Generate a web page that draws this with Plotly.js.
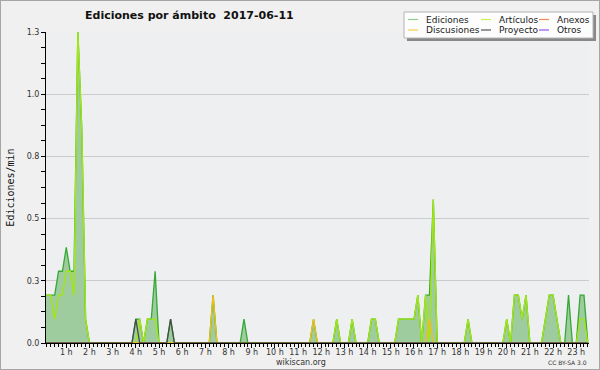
<!DOCTYPE html>
<html>
<head>
<meta charset="utf-8">
<script src="https://cdn.plot.ly/plotly-3.0.1.min.js"></script>
<style>
  html, body { margin: 0; padding: 0; background: #f0f0f0; }
  #wrap { position: relative; width: 600px; height: 370px; }
  #chart { width: 600px; height: 370px; }
  #frame { position: absolute; left: 0; top: 0; width: 600px; height: 370px; box-sizing: border-box; border: 1px solid #a6a6a6; pointer-events: none; }
</style>
</head>
<body>
<div id="wrap"><div id="chart"></div><div id="frame"></div></div>
<script>
// Time of each 10-minute bin (minutes after midnight)
const minutes = [
  0,10,20,30,40,50,60,70,80,90,100,110,
  120,130,140,150,160,170,180,190,200,210,220,230,
  240,250,260,270,280,290,300,310,320,330,340,350,
  360,370,380,390,400,410,420,430,440,450,460,470,
  480,490,500,510,520,530,540,550,560,570,580,590,
  600,610,620,630,640,650,660,670,680,690,700,710,
  720,730,740,750,760,770,780,790,800,810,820,830,
  840,850,860,870,880,890,900,910,920,930,940,950,
  960,970,980,990,1000,1010,1020,1030,1040,1050,1060,1070,
  1080,1090,1100,1110,1120,1130,1140,1150,1160,1170,1180,1190,
  1200,1210,1220,1230,1240,1250,1260,1270,1280,1290,1300,1310,
  1320,1330,1340,1350,1360,1370,1380,1390,1400,1410
];

// Edits per minute, by namespace
const ediciones = [
  0.2,0.2,0.2,0.2,0.3,0.3,0.4,0.3,0.3,1.3,0.9,0.1,
  0,0,0,0,0,0,0,0,0,0,0,0,
  0.1,0.1,0,0.1,0.1,0.3,0,0,0,0.1,0,0,
  0,0,0,0,0,0,0,0,0.2,0,0,0,
  0,0,0,0,0.1,0,0,0,0,0,0,0,
  0,0,0,0,0,0,0,0,0,0,0.1,0,
  0,0,0,0,0.1,0,0,0,0.1,0,0,0,
  0,0.1,0.1,0,0,0,0,0,0.1,0.1,0.1,0.1,
  0.1,0.2,0,0.2,0.2,0.6,0,0,0,0,0,0,
  0,0,0.1,0,0,0,0,0,0,0,0,0,
  0.1,0,0.2,0.2,0.1,0.2,0,0,0,0,0.1,0.2,
  0.2,0.1,0,0,0.2,0,0,0.2,0.2,0
];
const articulos = [
  0.2,0.2,0.2,0.1,0.2,0.2,0.3,0.3,0.2,1.3,0.9,0.1,
  0,0,0,0,0,0,0,0,0,0,0,0,
  0,0.1,0,0.1,0.1,0.1,0,0,0,0,0,0,
  0,0,0,0,0,0,0,0,0,0,0,0,
  0,0,0,0,0,0,0,0,0,0,0,0,
  0,0,0,0,0,0,0,0,0,0,0,0,
  0,0,0,0,0.1,0,0,0,0.1,0,0,0,
  0,0.1,0.1,0,0,0,0,0,0.1,0.1,0.1,0.1,
  0.1,0.2,0,0.2,0,0.6,0,0,0,0,0,0,
  0,0,0.1,0,0,0,0,0,0,0,0,0,
  0.1,0,0.2,0.2,0.1,0.2,0,0,0,0,0.1,0.2,
  0.2,0.1,0,0,0,0,0,0.1,0.1,0
];
const anexos = [
  0,0,0,0,0,0,0,0,0,0,0,0, 0,0,0,0,0,0,0,0,0,0,0,0,
  0,0,0,0,0,0,0,0,0,0,0,0, 0,0,0,0,0,0,0,0,0,0,0,0,
  0,0,0,0,0,0,0,0,0,0,0,0, 0,0,0,0,0,0,0,0,0,0,0,0,
  0,0,0,0,0,0,0,0,0,0,0,0, 0,0,0,0,0,0,0,0,0,0,0,0,
  0,0,0,0,0,0,0,0,0,0,0,0, 0,0,0,0,0,0,0,0,0,0,0,0,
  0,0,0,0,0,0,0,0,0,0,0,0, 0,0,0,0,0,0,0,0,0,0
];
const discusiones = [
  0,0,0,0,0,0,0,0,0,0,0,0, 0,0,0,0,0,0,0,0,0,0,0,0,
  0,0,0,0,0,0,0,0,0,0,0,0, 0,0,0,0,0,0,0,0,0.2,0,0,0,
  0,0,0,0,0,0,0,0,0,0,0,0, 0,0,0,0,0,0,0,0,0,0,0.1,0,
  0,0,0,0,0,0,0,0,0,0,0,0, 0,0,0,0,0,0,0,0,0,0,0,0,
  0,0,0,0,0.1,0,0,0,0,0,0,0, 0,0,0,0,0,0,0,0,0,0,0,0,
  0,0,0,0,0,0,0,0,0,0,0,0, 0,0,0,0,0,0,0,0,0,0
];
const proyecto = [
  0,0,0,0,0,0,0,0,0,0,0,0, 0,0,0,0,0,0,0,0,0,0,0,0,
  0.1,0,0,0,0,0,0,0,0,0.1,0,0, 0,0,0,0,0,0,0,0,0,0,0,0,
  0,0,0,0,0,0,0,0,0,0,0,0, 0,0,0,0,0,0,0,0,0,0,0,0,
  0,0,0,0,0,0,0,0,0,0,0,0, 0,0,0,0,0,0,0,0,0,0,0,0,
  0,0,0,0,0,0,0,0,0,0,0,0, 0,0,0,0,0,0,0,0,0,0,0,0,
  0,0,0,0,0,0,0,0,0,0,0,0, 0,0,0,0,0,0,0,0,0,0
];
const otros = [
  0,0,0,0,0,0,0,0,0,0,0,0, 0,0,0,0,0,0,0,0,0,0,0,0,
  0,0,0,0,0,0,0,0,0,0,0,0, 0,0,0,0,0,0,0,0,0,0,0,0,
  0,0,0,0,0,0,0,0,0,0,0,0, 0,0,0,0,0,0,0,0,0,0,0,0,
  0,0,0,0,0,0,0,0,0,0,0,0, 0,0,0,0,0,0,0,0,0,0,0,0,
  0,0,0,0,0,0,0,0,0,0,0,0, 0,0,0,0,0,0,0,0,0,0,0,0,
  0,0,0,0,0,0,0,0,0,0,0,0, 0,0,0,0,0,0,0,0,0,0
];

// Axis ticks
const hourTicks = [60,120,180,240,300,360,420,480,540,600,660,720,780,840,900,960,1020,1080,1140,1200,1260,1320,1380];
const hourLabels = ['1 h','2 h','3 h','4 h','5 h','6 h','7 h','8 h','9 h','10 h','11 h','12 h','13 h','14 h','15 h','16 h','17 h','18 h','19 h','20 h','21 h','22 h','23 h'];
const yTickVals = [0, 0.26, 0.52, 0.78, 1.04, 1.3];
const yTickText = ['0.0', '0.3', '0.5', '0.8', '1.0', '1.3'];

// Series names / colours
const seriesNames = ['Ediciones', 'Artículos', 'Anexos', 'Discusiones', 'Proyecto', 'Otros'];
const lineColors = {
  'Ediciones': '#35a835', 'Artículos': '#a2e614', 'Anexos': '#f07f4a',
  'Discusiones': '#f2bf12', 'Proyecto': '#4a4a4a', 'Otros': '#9a52e6'
};
const legendColors = {
  'Ediciones': '#8fd08f', 'Artículos': '#cbf04d', 'Anexos': '#f08a55',
  'Discusiones': '#f5d04a', 'Proyecto': '#555555', 'Otros': '#9a55ea'
};

const traces = [
  { x: minutes, y: ediciones, name: 'Ediciones', type: 'scatter', mode: 'lines',
    fill: 'tozeroy', fillcolor: 'rgb(158,204,158)', line: { color: lineColors['Ediciones'], width: 1.3 } },
  { x: minutes, y: anexos, name: 'Anexos', type: 'scatter', mode: 'lines', line: { color: lineColors['Anexos'], width: 1.3 } },
  { x: minutes, y: otros, name: 'Otros', type: 'scatter', mode: 'lines', line: { color: lineColors['Otros'], width: 1.3 } },
  { x: minutes, y: articulos, name: 'Artículos', type: 'scatter', mode: 'lines', line: { color: lineColors['Artículos'], width: 1.4 } },
  { x: minutes, y: discusiones, name: 'Discusiones', type: 'scatter', mode: 'lines', line: { color: lineColors['Discusiones'], width: 1.3 } },
  { x: minutes, y: proyecto, name: 'Proyecto', type: 'scatter', mode: 'lines', line: { color: lineColors['Proyecto'], width: 1.3 } }
];

// plot area in pixels: x 46..589, y 32..343
const L = 46, R = 589, T = 32, B = 343;
const PX = px => (px - L) / (R - L);
const PY = py => (B - py) / (B - T);

// custom legend (layout only)
const legendSlots = [
  { name: 'Ediciones', sx: 408, tx: 424, y: 19.5 },
  { name: 'Artículos', sx: 481, tx: 497, y: 19.5 },
  { name: 'Anexos', sx: 539, tx: 555, y: 19.5 },
  { name: 'Discusiones', sx: 408, tx: 424, y: 30 },
  { name: 'Proyecto', sx: 481, tx: 497, y: 30 },
  { name: 'Otros', sx: 539, tx: 555, y: 30 }
];
const shapes = [
  { type: 'rect', xref: 'paper', yref: 'paper', x0: PX(407), x1: PX(596), y0: PY(15), y1: PY(41),
    fillcolor: '#888888', line: { width: 0 }, layer: 'above' },
  { type: 'rect', xref: 'paper', yref: 'paper', x0: PX(404), x1: PX(593), y0: PY(12), y1: PY(38),
    fillcolor: '#fdfdfd', line: { color: '#b4b4b4', width: 1 }, layer: 'above' }
];
const annotations = [];
legendSlots.forEach(s => {
  shapes.push({ type: 'line', xref: 'paper', yref: 'paper', x0: PX(s.sx), x1: PX(s.sx + 10), y0: PY(s.y), y1: PY(s.y),
    line: { color: legendColors[s.name], width: 1.2 }, layer: 'above' });
  annotations.push({ xref: 'paper', yref: 'paper', x: PX(s.tx), y: PY(s.y), xanchor: 'left', yanchor: 'middle',
    text: s.name, showarrow: false, font: { family: 'DejaVu Sans', size: 9, color: '#1a1a1a' } });
});
annotations.push({ xref: 'paper', yref: 'paper', x: PX(301), y: PY(362), xanchor: 'center', yanchor: 'middle',
  text: 'wikiscan.org', showarrow: false, font: { family: 'DejaVu Sans', size: 8, color: '#333' } });
annotations.push({ xref: 'paper', yref: 'paper', x: PX(589), y: PY(362), xanchor: 'right', yanchor: 'middle',
  text: 'CC BY-SA 3.0', showarrow: false, font: { family: 'DejaVu Sans', size: 6, color: '#333' } });

const layout = {
  width: 600, height: 370,
  margin: { l: L, r: 600 - R, t: T, b: 370 - B, pad: 0 },
  paper_bgcolor: '#f0f0f0',
  plot_bgcolor: '#eeeff1',
  showlegend: false,
  title: { text: 'Ediciones por ámbito \u00a02017-06-11', xref: 'container', yref: 'container',
    x: 85 / 600, xanchor: 'left', y: 1 - 15 / 370, yanchor: 'middle',
    font: { family: 'DejaVu Sans', size: 11, color: '#111', weight: 'bold' } },
  xaxis: {
    range: [7.5, 1413], tickmode: 'array', tickvals: hourTicks, ticktext: hourLabels,
    ticks: 'outside', ticklen: 4, tickwidth: 1, tickcolor: '#000', ticklabelstandoff: -3,
    showline: true, linecolor: '#000', linewidth: 1, showgrid: false, zeroline: false,
    tickfont: { family: 'DejaVu Sans', size: 8, color: '#333' },
    minor: { tickmode: 'linear', tick0: 0, dtick: 10, ticks: 'outside', ticklen: 3, tickcolor: '#000', showgrid: false },
    fixedrange: true
  },
  yaxis: {
    range: [0, 1.3], tickmode: 'array', tickvals: yTickVals, ticktext: yTickText,
    ticks: 'outside', ticklen: 4, tickwidth: 1, tickcolor: '#000',
    showline: true, linecolor: '#000', linewidth: 1,
    showgrid: true, gridcolor: '#cbcbcb', gridwidth: 1, zeroline: false,
    tickfont: { family: 'DejaVu Sans', size: 8, color: '#333' },
    minor: { tickmode: 'linear', tick0: 0, dtick: 0.065, ticks: 'outside', ticklen: 4, tickcolor: '#000', showgrid: false },
    title: { text: 'Ediciones/min', standoff: 10, font: { family: 'DejaVu Sans Mono', size: 10, color: '#111' } },
    fixedrange: true
  },
  shapes: shapes,
  annotations: annotations
};

Plotly.newPlot('chart', traces, layout, { staticPlot: true, displayModeBar: false });
</script>
</body>
</html>
